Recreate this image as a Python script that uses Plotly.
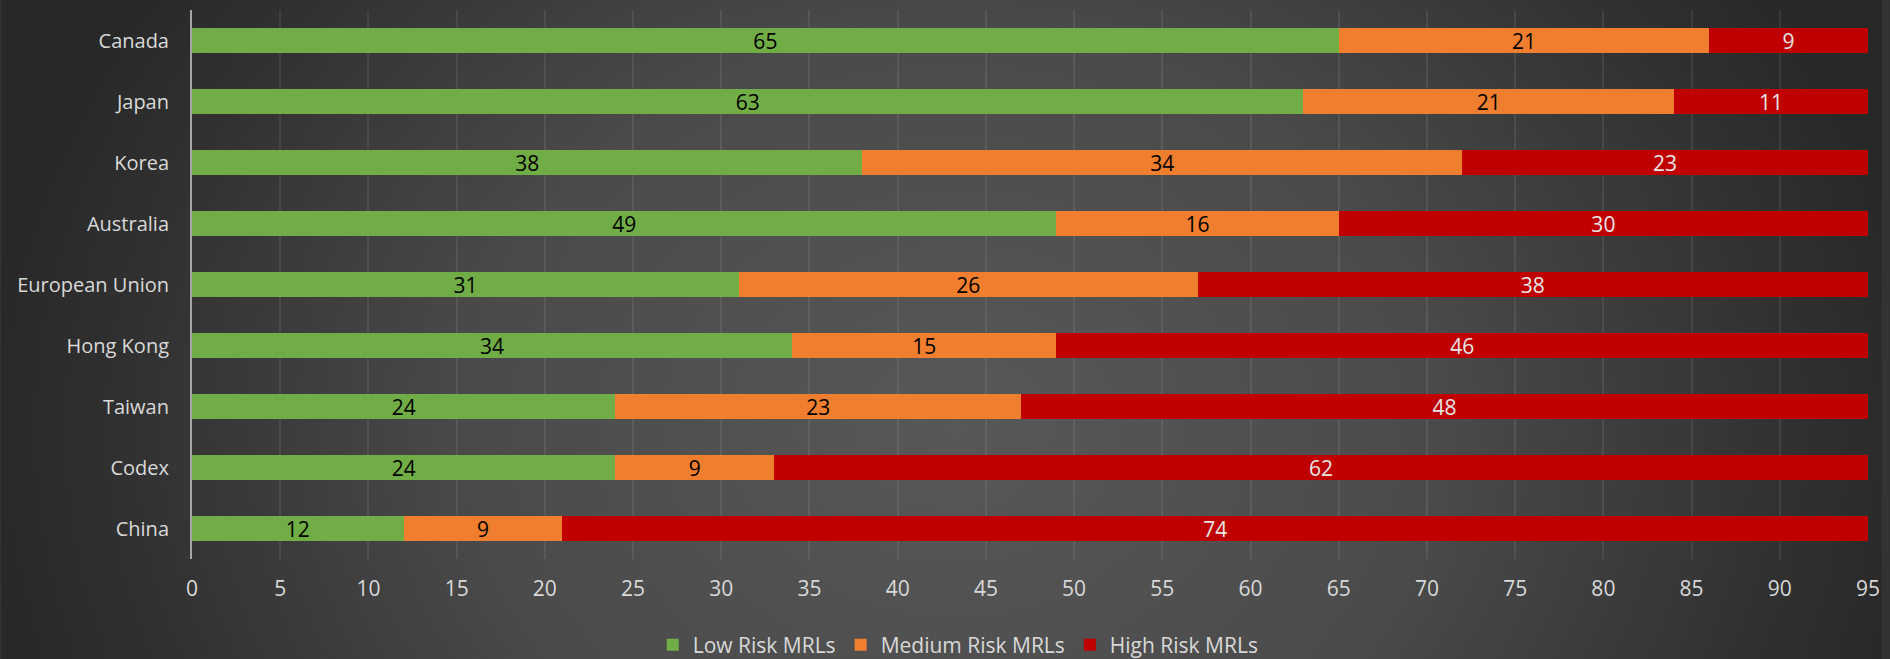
import base64
import plotly.graph_objects as go

categories = ["Canada", "Japan", "Korea", "Australia", "European Union",
              "Hong Kong", "Taiwan", "Codex", "China"]
low_risk = [65, 63, 38, 49, 31, 34, 24, 24, 12]
medium_risk = [21, 21, 34, 16, 26, 15, 23, 9, 9]
high_risk = [9, 11, 23, 30, 38, 46, 48, 62, 74]
series_names = ["Low Risk MRLs", "Medium Risk MRLs", "High Risk MRLs"]
x_ticks = list(range(0, 96, 5))

W, H = 1890, 659
ML, MR, MT, MB = 192, 14, 10, 100
PW, PH = W - ML - MR, H - MT - MB

FONT = "Open Sans"
LIGHT = "#d9d9d9"

svg = f'''<svg xmlns="http://www.w3.org/2000/svg" width="{W}" height="{H}" viewBox="0 0 {W} {H}" preserveAspectRatio="none">
<defs><radialGradient id="g" gradientUnits="userSpaceOnUse" cx="0" cy="0" r="1"
 gradientTransform="translate(960 430) scale(980 800)">
<stop offset="0" stop-color="#585858"/>
<stop offset="0.5" stop-color="#4a4a4a"/>
<stop offset="0.85" stop-color="#313131"/>
<stop offset="1" stop-color="#282828"/>
</radialGradient></defs>
<rect x="0" y="0" width="{W}" height="{H}" fill="url(#g)"/>
</svg>'''
bg_uri = "data:image/svg+xml;base64," + base64.b64encode(svg.encode()).decode()

fig = go.Figure()
colors = ["#70AD47", "#EF7F2E", "#C00000"]
text_colors = ["#000000", "#000000", "#e6e6e6"]
for name, vals, col, tcol in zip(series_names, [low_risk, medium_risk, high_risk],
                                 colors, text_colors):
    fig.add_trace(go.Bar(
        y=categories, x=vals, name=name, orientation="h",
        marker=dict(color=col, line=dict(width=0)),
        text=[str(v) for v in vals], textposition="inside",
        insidetextanchor="middle", textangle=0, constraintext="none",
        textfont=dict(family=FONT, size=21, color=tcol),
        width=0.41, hoverinfo="x+y+name",
    ))

fig.update_layout(
    width=W, height=H,
    barmode="stack",
    margin=dict(l=ML, r=MR, t=MT, b=MB, pad=0),
    paper_bgcolor="#333333",
    plot_bgcolor="rgba(0,0,0,0)",
    font=dict(family=FONT, size=20, color=LIGHT),
    showlegend=True,
    legend=dict(
        orientation="h", xref="container", yref="container",
        x=0.507, xanchor="center", y=0.021, yanchor="middle",
        font=dict(family=FONT, size=21, color=LIGHT),
        bgcolor="rgba(0,0,0,0)", traceorder="normal",
    ),
    images=[dict(
        source=bg_uri, xref="paper", yref="paper",
        x=-ML / PW, y=1 + MT / PH, sizex=W / PW, sizey=H / PH,
        xanchor="left", yanchor="top", sizing="stretch", layer="below",
    )],
)

fig.update_xaxes(
    range=[0, 95], tickvals=x_ticks, ticktext=[str(t) for t in x_ticks],
    showgrid=True, gridcolor="rgba(255,255,255,0.08)", gridwidth=2,
    zeroline=False, showline=False, ticks="",
    tickfont=dict(family=FONT, size=21, color=LIGHT),
    ticklabelstandoff=15, fixedrange=True,
)
fig.update_yaxes(
    categoryorder="array", categoryarray=categories, autorange="reversed",
    showgrid=False, zeroline=False,
    showline=True, linecolor="#a6a6a6", linewidth=2,
    ticks="", tickfont=dict(family=FONT, size=20, color=LIGHT),
    ticklabelstandoff=17, fixedrange=True,
)

fig.write_html("out.html")
